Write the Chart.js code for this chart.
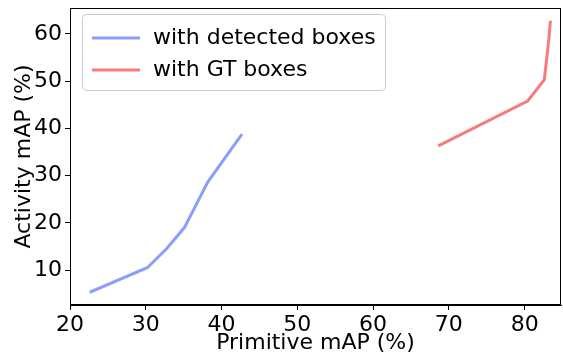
<!DOCTYPE html>
<html>
<head>
<meta charset="utf-8">
<script src="https://cdn.jsdelivr.net/npm/chart.js@4/dist/chart.umd.min.js"></script>
<style>
  html, body { margin: 0; padding: 0; background: #fff; }
  #wrap { width: 563px; height: 356px; }
</style>
</head>
<body>
<div id="wrap"><canvas id="chart" width="563" height="356"></canvas></div>
<script>
const seriesNames = ['with detected boxes', 'with GT boxes'];
const seriesColors = ['#8c9dfc', '#f87b7b'];

const detectedPrim = [22.6, 30.2, 32.8, 35.1, 38.2, 42.7];
const detectedAct = [5.3, 10.5, 14.6, 19.0, 28.7, 38.8];

const gtPrim = [68.6, 80.4, 82.6, 83.2, 83.4];
const gtAct = [36.3, 45.8, 50.3, 58.9, 62.8];

const toPoints = (xs, ys) => xs.map((x, i) => ({ x, y: ys[i] }));

const font = { family: 'DejaVu Sans', size: 22 };

// legend drawn inside the plot, top-left, with a frame box
const boxLegend = {
  id: 'boxLegend',
  afterDraw(chart) {
    const ctx = chart.ctx;
    const area = chart.chartArea;
    const x0 = area.left + 12, y0 = area.top + 6;
    const w = 303, h = 76;
    ctx.save();
    ctx.fillStyle = 'rgba(255,255,255,0.8)';
    ctx.strokeStyle = '#cccccc';
    ctx.lineWidth = 1;
    ctx.beginPath();
    ctx.roundRect(x0 + 0.5, y0 + 0.5, w, h, 4);
    ctx.fill();
    ctx.stroke();
    ctx.font = '22px "DejaVu Sans"';
    ctx.textBaseline = 'middle';
    chart.data.datasets.forEach((ds, i) => {
      const y = y0 + 24 + i * 32;
      ctx.strokeStyle = ds.borderColor;
      ctx.lineWidth = 3;
      ctx.beginPath();
      ctx.moveTo(x0 + 10, y);
      ctx.lineTo(x0 + 58, y);
      ctx.stroke();
      ctx.fillStyle = '#000';
      ctx.fillText(ds.label, x0 + 71, y);
    });
    ctx.restore();
  }
};

// top and right spines
const frame = {
  id: 'frame',
  afterDatasetsDraw(chart) {
    const a = chart.chartArea;
    const ctx = chart.ctx;
    ctx.save();
    ctx.strokeStyle = '#000';
    ctx.lineWidth = 1;
    ctx.strokeRect(Math.round(a.left) + 0.5, Math.round(a.top) + 0.5,
      Math.round(a.right - a.left) - 1, Math.round(a.bottom - a.top) - 1);
    ctx.restore();
  }
};

new Chart(document.getElementById('chart'), {
  type: 'line',
  data: {
    datasets: [
      {
        label: seriesNames[0],
        data: toPoints(detectedPrim, detectedAct),
        borderColor: seriesColors[0],
        borderWidth: 3,
        pointRadius: 0,
        tension: 0,
        fill: false
      },
      {
        label: seriesNames[1],
        data: toPoints(gtPrim, gtAct),
        borderColor: seriesColors[1],
        borderWidth: 3,
        pointRadius: 0,
        tension: 0,
        fill: false
      }
    ]
  },
  options: {
    responsive: false,
    animation: false,
    layout: { padding: { left: 0, right: 2, top: 8, bottom: 0 } },
    plugins: {
      legend: { display: false },
      tooltip: { enabled: false }
    },
    scales: {
      x: {
        type: 'linear',
        min: 20,
        max: 84.8,
        afterFit: s => { s.height = 51; s.paddingLeft = 0; s.paddingRight = 0; },
        ticks: { stepSize: 10, includeBounds: false, color: '#000', font, padding: 2, maxRotation: 0 },
        grid: { display: true, drawOnChartArea: false, drawTicks: true, tickLength: 5, color: '#000' },
        border: { display: true, color: '#000' },
        title: { display: true, text: 'Primitive mAP (%)', color: '#000', font, padding: { top: 0, bottom: 0 } }
      },
      y: {
        type: 'linear',
        min: 2.6,
        max: 65.5,
        afterFit: s => { s.width = 70; s.paddingTop = 0; s.paddingBottom = 0; },
        ticks: { stepSize: 10, includeBounds: false, color: '#000', font, padding: 3 },
        grid: { display: true, drawOnChartArea: false, drawTicks: true, tickLength: 5, color: '#000' },
        border: { display: true, color: '#000' },
        title: { display: true, text: 'Activity mAP (%)', color: '#000', font, padding: { top: 11, bottom: 0 } }
      }
    }
  },
  plugins: [boxLegend, frame]
});
</script>
</body>
</html>
